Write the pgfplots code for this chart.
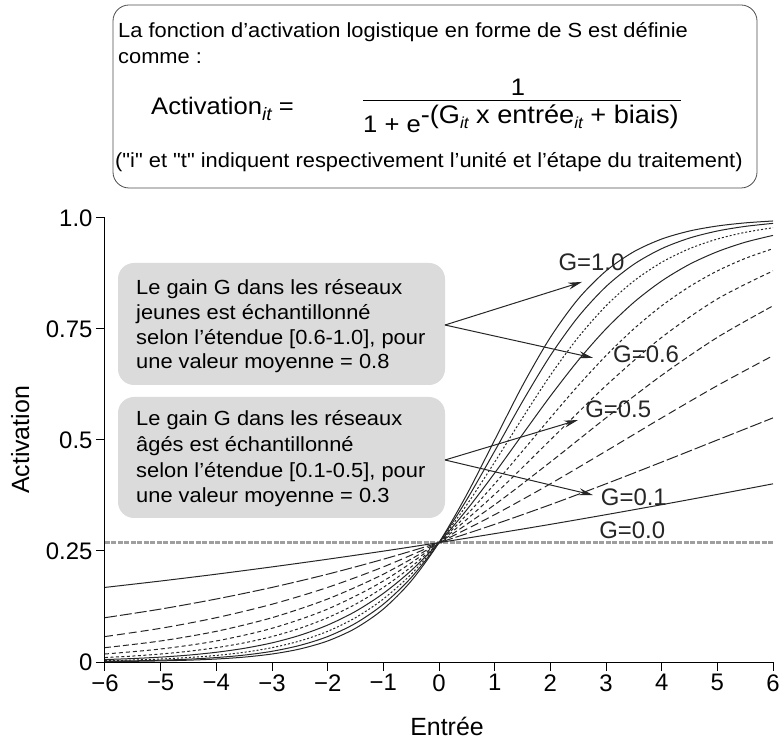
\documentclass[border=0pt]{standalone}
\usepackage{fontspec}
\setmainfont{Liberation Sans}
\newfontfamily\boxfont{Liberation Sans}[FakeStretch=1.07]
\usepackage{pgfplots}
\pgfplotsset{compat=1.18}
\usetikzlibrary{arrows.meta}
\begin{document}
\begin{tikzpicture}
\useasboundingbox (-105bp,-85bp) rectangle (676bp,662bp);
% top formula box
\draw[gray!60!black, line width=0.8bp, rounded corners=16bp] (8bp,657bp) rectangle (652bp,474bp);
\begin{scope}[every node/.style={inner sep=0pt, font=\boxfont\fontsize{20.5}{20.5}\selectfont}]
\node[anchor=base west] at (13bp,624bp) {La fonction d’activation logistique en forme de S est définie};
\node[anchor=base west] at (13bp,598bp) {comme :};
\node[anchor=base west] at (10bp,494bp) {("i" et "t" indiquent respectivement l’unité et l’étape du traitement)};
\end{scope}
\node[anchor=base west, inner sep=0pt, font=\boxfont\fontsize{24}{24}\selectfont] at (46bp,547bp) {Activation\raisebox{-6bp}{\fontsize{18}{18}\selectfont\itshape it} =};
\node[anchor=base, inner sep=0pt, font=\boxfont\fontsize{24}{24}\selectfont] at (413bp,566bp) {1};
\draw[line width=1bp] (258bp,561bp) -- (576bp,561bp);
\node[anchor=base west, inner sep=0pt, font=\boxfont\fontsize{24}{24}\selectfont] at (258bp,529bp) {1 + e\raisebox{9bp}{\fontsize{25.5}{25.5}\selectfont-(G\raisebox{-5bp}{\fontsize{16}{16}\selectfont\itshape it} x entrée\raisebox{-5bp}{\fontsize{16}{16}\selectfont\itshape it} + biais)}};
% grey annotation boxes
\fill[gray!28, rounded corners=16bp] (13bp,399bp) rectangle (340bp,277bp);
\fill[gray!28, rounded corners=16bp] (13bp,265bp) rectangle (340bp,144bp);
\begin{scope}[every node/.style={inner sep=0pt, anchor=base west, font=\boxfont\fontsize{20.5}{20.5}\selectfont}]
\node at (31bp,367bp) {Le gain G dans les réseaux};
\node at (31bp,342bp) {jeunes est échantillonné};
\node at (31bp,317bp) {selon l’étendue [0.6-1.0], pour};
\node at (31bp,293bp) {une valeur moyenne = 0.8};
\node at (31bp,236bp) {Le gain G dans les réseaux};
\node at (31bp,210bp) {âgés est échantillonné};
\node at (31bp,184bp) {selon l’étendue [0.1-0.5], pour};
\node at (31bp,159bp) {une valeur moyenne = 0.3};
\end{scope}
\begin{axis}[
  at={(0,0)}, anchor=south west,
  scale only axis, width=668bp, height=444bp,
  xmin=-6, xmax=6, ymin=0, ymax=1,
  axis x line*=bottom, axis y line*=left,
  axis line style={line width=1bp},
  tick align=outside, major tick length=9bp,
  tick style={line width=1bp, black},
  xtick={-6,-5,-4,-3,-2,-1,0,1,2,3,4,5,6},
  xticklabels={−6,−5,−4,−3,−2,−1,0,1,2,3,4,5,6},
  ytick={0,0.25,0.5,0.75,1},
  yticklabels={0,0.25,0.5,0.75,1.0},
  tick label style={font=\fontsize{24}{24}\selectfont},
  xlabel={Entrée}, ylabel={Activation},
  label style={font=\fontsize{25}{25}\selectfont},
  xlabel style={at={(axis description cs:0.512,-0.146)}, anchor=center},
  ylabel style={at={(axis description cs:-0.127,0.5)}, anchor=center},
  clip=false,
  every axis plot/.style={black!85, line width=1bp, smooth, no markers},
]
\addplot[gray!75, line width=3bp, dash pattern=on 5bp off 1.5bp, sharp plot] coordinates {(-6,0.2689) (6,0.2689)};
% G = 0.1
\addplot[solid] coordinates {(-6,0.1680) (-5,0.1824) (-4,0.1978) (-3,0.2142) (-2,0.2315) (-1,0.2497) (0,0.2689) (1,0.2891) (2,0.3100) (3,0.3318) (4,0.3543) (5,0.3775) (6,0.4013)};
% G = 0.2
\addplot[dash pattern=on 12bp off 3bp] coordinates {(-6,0.0998) (-5,0.1192) (-4,0.1419) (-3,0.1680) (-2,0.1978) (-1,0.2315) (0,0.2689) (1,0.3100) (2,0.3543) (3,0.4013) (4,0.4502) (5,0.5) (6,0.5498)};
% G = 0.3
\addplot[dash pattern=on 8bp off 4bp] coordinates {(-6,0.0573) (-5,0.0759) (-4,0.0998) (-3,0.1301) (-2,0.1680) (-1,0.2142) (0,0.2689) (1,0.3318) (2,0.4013) (3,0.4750) (4,0.5498) (5,0.6225) (6,0.6900)};
% G = 0.4
\addplot[dash pattern=on 6bp off 3bp] coordinates {(-6,0.0323) (-5,0.0474) (-4,0.0691) (-3,0.0998) (-2,0.1419) (-1,0.1978) (0,0.2689) (1,0.3543) (2,0.4502) (3,0.5498) (4,0.6457) (5,0.7311) (6,0.8022)};
% G = 0.5
\addplot[dash pattern=on 4bp off 3bp] coordinates {(-6,0.0180) (-5,0.0293) (-4,0.0474) (-3,0.0759) (-2,0.1192) (-1,0.1824) (0,0.2689) (1,0.3775) (2,0.5) (3,0.6225) (4,0.7311) (5,0.8176) (6,0.8808)};
% G = 0.6
\addplot[dash pattern=on 3bp off 2.5bp] coordinates {(-6,0.0100) (-5.5,0.0134) (-5,0.0180) (-4.5,0.0241) (-4,0.0323) (-3.5,0.0431) (-3,0.0573) (-2.5,0.0759) (-2,0.0998) (-1.5,0.1301) (-1,0.1680) (-0.5,0.2142) (0,0.2689) (0.5,0.3318) (1,0.4013) (1.5,0.4750) (2,0.5498) (2.5,0.6225) (3,0.6900) (3.5,0.7503) (4,0.8022) (4.5,0.8455) (5,0.8808) (5.5,0.9089) (6,0.9309)};
% G = 0.7
\addplot[solid] coordinates {(-6,0.0055) (-5.5,0.0078) (-5,0.0110) (-4.5,0.0155) (-4,0.0219) (-3.5,0.0308) (-3,0.0431) (-2.5,0.0601) (-2,0.0832) (-1.5,0.1140) (-1,0.1545) (-0.5,0.2059) (0,0.2689) (0.5,0.3430) (1,0.4256) (1.5,0.5125) (2,0.5987) (2.5,0.6792) (3,0.7503) (3.5,0.8100) (4,0.8581) (4.5,0.8957) (5,0.9241) (5.5,0.9454) (6,0.9608)};
% G = 0.8
\addplot[dash pattern=on 2bp off 2bp] coordinates {(-6,0.0030) (-5.5,0.0045) (-5,0.0067) (-4.5,0.0100) (-4,0.0148) (-3.5,0.0219) (-3,0.0323) (-2.5,0.0474) (-2,0.0691) (-1.5,0.0998) (-1,0.1419) (-0.5,0.1978) (0,0.2689) (0.5,0.3543) (1,0.4502) (1.5,0.5498) (2,0.6457) (2.5,0.7311) (3,0.8022) (3.5,0.8581) (4,0.9002) (4.5,0.9309) (5,0.9526) (5.5,0.9677) (6,0.9781)};
% G = 0.9
\addplot[solid] coordinates {(-6,0.0017) (-5.5,0.0026) (-5,0.0041) (-4.5,0.0064) (-4,0.0100) (-3.5,0.0155) (-3,0.0241) (-2.5,0.0374) (-2,0.0573) (-1.5,0.0871) (-1,0.1301) (-0.5,0.1900) (0,0.2689) (0.5,0.3659) (1,0.4750) (1.5,0.5866) (2,0.6900) (2.5,0.7773) (3,0.8455) (3.5,0.8957) (4,0.9309) (4.5,0.9548) (5,0.9707) (5.5,0.9811) (6,0.9879)};
% G = 1.0
\addplot[solid] coordinates {(-6,0.0009) (-5.5,0.0015) (-5,0.0025) (-4.5,0.0041) (-4,0.0067) (-3.5,0.0110) (-3,0.0180) (-2.5,0.0293) (-2,0.0474) (-1.5,0.0759) (-1,0.1192) (-0.5,0.1824) (0,0.2689) (0.5,0.3775) (1,0.5) (1.5,0.6225) (2,0.7311) (2.5,0.8176) (3,0.8808) (3.5,0.9241) (4,0.9526) (4.5,0.9707) (5,0.9820) (5.5,0.9890) (6,0.9933)};
% arrows
\draw[black!85, line width=1bp, -{Stealth[length=14bp,width=7bp]}] (axis cs:0.108,0.759) -- (axis cs:2.569,0.856);
\draw[black!85, line width=1bp, -{Stealth[length=14bp,width=7bp]}] (axis cs:0.108,0.759) -- (axis cs:2.766,0.685);
\draw[black!85, line width=1bp, -{Stealth[length=14bp,width=7bp]}] (axis cs:0.108,0.455) -- (axis cs:2.497,0.545);
\draw[black!85, line width=1bp, -{Stealth[length=14bp,width=7bp]}] (axis cs:0.108,0.455) -- (axis cs:2.766,0.376);
% curve labels
\begin{scope}[every node/.style={font=\fontsize{24}{24}\selectfont, inner sep=0pt, text=black!85}]
\node at (axis cs:2.74,0.901) {G=1.0};
\node at (axis cs:3.72,0.693) {G=0.6};
\node at (axis cs:3.22,0.570) {G=0.5};
\node at (axis cs:3.50,0.372) {G=0.1};
\node at (axis cs:3.47,0.296) {G=0.0};
\end{scope}
\end{axis}
\end{tikzpicture}
\end{document}
